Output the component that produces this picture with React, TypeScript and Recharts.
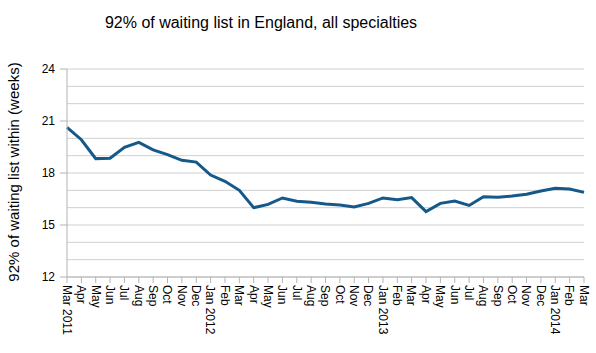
import React from 'react';
import { LineChart, Line, XAxis, YAxis, CartesianGrid } from 'recharts';

// one entry per month, Mar 2011 .. Mar 2014
const months = [
  '2011-03', '2011-04', '2011-05', '2011-06', '2011-07', '2011-08', '2011-09', '2011-10', '2011-11', '2011-12',
  '2012-01', '2012-02', '2012-03', '2012-04', '2012-05', '2012-06', '2012-07', '2012-08', '2012-09', '2012-10', '2012-11', '2012-12',
  '2013-01', '2013-02', '2013-03', '2013-04', '2013-05', '2013-06', '2013-07', '2013-08', '2013-09', '2013-10', '2013-11', '2013-12',
  '2014-01', '2014-02', '2014-03',
];

const monthLabels = [
  'Mar 2011', 'Apr', 'May', 'Jun', 'Jul', 'Aug', 'Sep', 'Oct', 'Nov', 'Dec',
  'Jan 2012', 'Feb', 'Mar', 'Apr', 'May', 'Jun', 'Jul', 'Aug', 'Sep', 'Oct', 'Nov', 'Dec',
  'Jan 2013', 'Feb', 'Mar', 'Apr', 'May', 'Jun', 'Jul', 'Aug', 'Sep', 'Oct', 'Nov', 'Dec',
  'Jan 2014', 'Feb', 'Mar',
];

// 92nd percentile waiting time, weeks
const weeks = [
  20.63, 19.92, 18.83, 18.85, 19.48, 19.77, 19.33, 19.06, 18.73, 18.63,
  17.88, 17.52, 17.0, 16.0, 16.19, 16.56, 16.37, 16.31, 16.21, 16.15, 16.04, 16.25,
  16.56, 16.46, 16.58, 15.77, 16.25, 16.38, 16.13, 16.63, 16.6, 16.67, 16.77, 16.96,
  17.12, 17.08, 16.88,
];

const yTicks = [12, 13, 14, 15, 16, 17, 18, 19, 20, 21, 22, 23, 24];
const yLabelTicks = [12, 15, 18, 21, 24];

const data = months.map((m, i) => ({ month: m, weeks: weeks[i] }));

const FONT = '"Liberation Sans", Arial, sans-serif';
const GRID = '#d0d0d0';
const AXIS = '#b3b3b3';

const XTick = (props: any) => {
  const { x, y, payload } = props;
  const label = monthLabels[payload.index];
  return (
    <text
      x={x}
      y={y}
      dy="0.35em"
      transform={`rotate(90, ${x}, ${y})`}
      textAnchor="start"
      fontSize={12}
      fontFamily={FONT}
      fill="#000"
    >
      {label}
    </text>
  );
};

const YTick = (props: any) => {
  const { x, y, payload } = props;
  if (!yLabelTicks.includes(payload.value)) return <g />;
  // x is text anchor = axis - tickSize - tickMargin (7 + 5)
  return (
    <g>
      <line x1={x + 5} x2={x + 12} y1={y} y2={y} stroke={AXIS} />
      <text x={x} y={y} dy="0.35em" textAnchor="end" fontSize={12} fontFamily={FONT} fill="#000">
        {payload.value}
      </text>
    </g>
  );
};

export default function App() {
  return (
    <div style={{ position: 'absolute', left: 0, top: 0, width: 596, height: 353, background: '#fff' }}>
      <LineChart
        width={596}
        height={353}
        data={data}
        margin={{ top: 69, right: 12, left: 0, bottom: 0 }}
      >
        <CartesianGrid yAxisId="left" vertical={false} stroke={GRID} />
        <XAxis
          dataKey="month"
          interval={0}
          height={76}
          tick={<XTick />}
          tickSize={6}
          tickMargin={2}
          tickLine={{ stroke: AXIS }}
          axisLine={{ stroke: AXIS }}
        />
        <YAxis
          yAxisId="left"
          domain={[12, 24]}
          ticks={yTicks}
          interval={0}
          width={67}
          tick={<YTick />}
          tickSize={7}
          tickMargin={5}
          tickLine={false}
          axisLine={{ stroke: AXIS }}
        />
        <YAxis
          yAxisId="right"
          orientation="right"
          domain={[12, 24]}
          width={0}
          tick={false}
          tickLine={false}
          axisLine={{ stroke: AXIS }}
        />
        <Line
          yAxisId="left"
          type="linear"
          dataKey="weeks"
          stroke="#14598a"
          strokeWidth={3}
          dot={false}
          isAnimationActive={false}
        />
      </LineChart>
      <svg
        width={596}
        height={353}
        style={{ position: 'absolute', left: 0, top: 0, pointerEvents: 'none' }}
      >
        <text x={261} y={28} textAnchor="middle" fontSize={16} fontFamily={FONT} fill="#000">
          92% of waiting list in England, all specialties
        </text>
        <text
          x={14}
          y={172}
          dy="0.35em"
          transform="rotate(-90, 14, 172)"
          textAnchor="middle"
          fontSize={15}
          fontFamily={FONT}
          fill="#000"
        >
          92% of waiting list within (weeks)
        </text>
      </svg>
    </div>
  );
}
